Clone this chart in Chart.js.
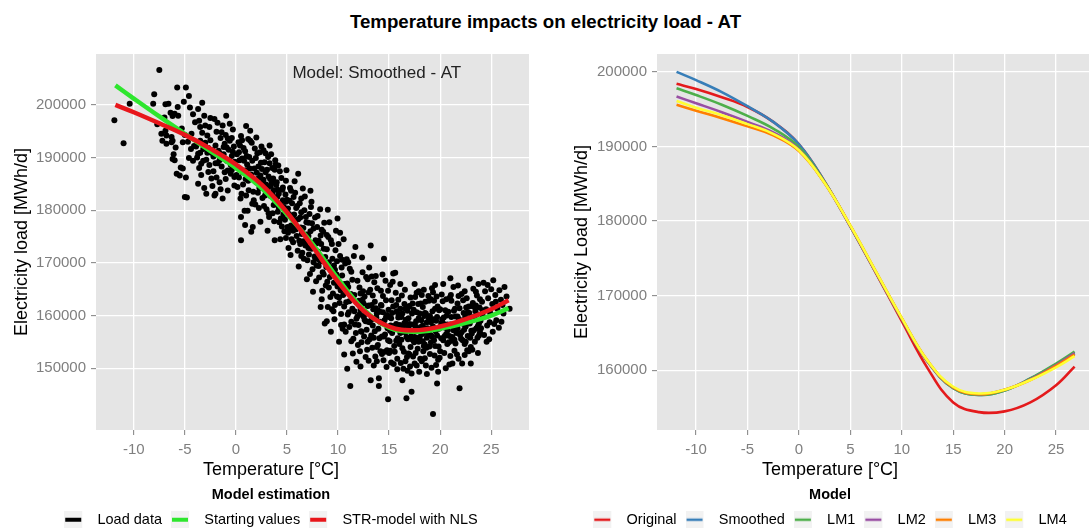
<!DOCTYPE html>
<html lang="en">
<head>
    <meta charset="UTF-8">
    <title>Temperature impacts on electricity load - AT</title>
    <script src="https://cdn.jsdelivr.net/npm/chart.js"></script>
    <style>
        body {
            margin: 0;
            width: 1091px;
            height: 528px;
            position: relative;
            overflow: hidden;
            background: #fff;
            font-family: "Liberation Sans", Arial, sans-serif;
        }
        .mainTitle {
            position: absolute;
            left: 0;
            top: 12px;
            width: 1091px;
            margin: 0;
            text-align: center;
            font-size: 18.7px;
            line-height: 20px;
            font-weight: bold;
            color: #000;
        }
        #fitChart { position: absolute; left: 9px; top: 40px; }
        #modelChart { position: absolute; left: 571px; top: 40px; }
    </style>
</head>
<body>
<h1 class="mainTitle">Temperature impacts on electricity load - AT</h1>
<canvas id="fitChart" width="524" height="488"></canvas>
<canvas id="modelChart" width="518" height="488"></canvas>

<script>
    // daily load [MWh/d] against daily mean temperature [°C]
    const loadData = [
        [-11.9,197100],[-11.0,192700],[-10.4,200200],[-8.0,202000],[-8.1,200200],[-7.5,206600],
        [-6.9,200100],[-6.6,200200],[-6.4,198500],[-6.2,197900],[-6.0,198300],[-5.75,203300],[-4.9,203300],
        [-4.6,201700],[-5.7,199600],[-5.65,197950],[-4.5,199500],[-7.3,194500],[-6.9,195100],[-6.8,194200],
        [-7.2,193200],[-6.3,193900],[-6.2,193200],[-6.8,192600],[-6.3,192900],[-5.2,192900],[-4.35,194500],
        [-6.1,190600],[-6.0,189500],[-6.2,189700],[-5.2,187900],[-5.4,188100],[-5.5,186600],[-5.8,186900],
        [-4.9,186200],[-5.0,182500],[-4.8,182400],[-4.2,189400],[-4.0,196700],[-5.3,195500],[-5.0,194300],
        [-4.7,193000],[-4.4,191600],[-5.9,191900],[-7.7,196300],[-7.0,197600],[-4.2,198200],[-5.1,200600],
        [-4.1,192200],[-4.6,189900],
        [-3.7,199200],[-3.3,200400],[-3.1,197950],[-0.95,197950],[-3.6,197000],[-3.5,195800],[-3.3,194700],
        [-3.5,193200],[-3.7,190700],[-3.4,188800],[-2.7,187250],[-2.4,186000],[-3.7,185000],[-2.9,183100],
        [-2.1,182800],[-2.0,183100],[-1.5,184000],[-1.3,182200],[-0.8,187550],[-0.15,186300],[-0.15,184700],
        [-0.8,183750],[-3.9,192100],[-3.8,190000],[-3.2,191600],[-3.0,192800],[-2.8,194200],[-2.6,195800],
        [-2.5,193300],[-2.3,191400],[-2.2,190200],[-2.0,192300],[-1.9,194900],[-1.8,196600],[-1.7,191300],
        [-1.6,189500],[-1.5,193700],[-1.4,188300],[-1.2,190600],[-1.1,192600],[-1.0,194300],[-0.9,189400],
        [-0.7,191500],[-0.6,193200],[-0.5,188600],[-0.4,190300],[-0.3,195300],[-0.2,192100],[-0.1,189200],
        [-2.9,189600],[-2.6,188600],[-2.2,187400],[-1.9,186200],[-1.6,185300],[-1.0,185900],[-0.5,186900],
        [-3.4,186700],[-3.1,184200],[-2.4,190900],[-1.3,196100],[-0.6,196400],[-3.6,188000],[-2.7,191800],
        [-1.8,188900],[-0.9,191900],[-0.3,191100],[-2.3,184600],[-1.4,194800],[-0.4,193700],[-3.0,196100],
        [-2.1,197300],[-1.1,187200],[-3.5,190900],[-2.8,190900],[-2.0,188900],[-1.2,192000],[-0.4,187700],
        [-3.2,189400],[-1.6,190800],[-2.5,197500],[-0.8,193600],
        [0.5,178700],[1.5,175900],[0.5,174300],[0.1,190600],[0.2,188100],[0.3,186200],[0.4,192300],
        [0.5,194100],[0.6,189800],[0.7,184900],[0.8,187300],[0.9,191200],[1.0,182800],[1.1,188700],
        [1.2,185600],[1.3,190100],[1.4,193200],[1.5,186800],[1.6,189400],[1.7,183500],[1.8,187900],
        [1.9,181100],[2.0,185300],[2.1,190800],[2.2,188300],[2.3,184200],[2.4,186600],[2.5,192100],
        [2.6,182300],[2.7,185800],[2.8,189100],[2.9,187200],[3.0,180200],[3.1,184000],[3.2,186400],
        [3.3,188900],[3.4,182700],[3.5,185100],[3.6,179400],[3.7,183800],[3.8,187700],[3.9,181600],
        [0.15,184400],[0.35,189500],[0.55,183100],[0.75,191800],[0.95,185900],[1.15,179900],[1.35,187900],
        [1.55,192800],[1.75,181900],[1.95,189900],[2.15,183300],[2.35,191000],[2.55,187800],[2.75,180800],
        [2.95,184900],[3.15,190100],[3.35,185900],[3.55,188000],[3.75,177900],[3.95,184800],[0.25,192900],
        [0.45,182200],[0.65,187200],[0.85,179900],[1.05,190300],[1.25,183800],[1.45,186100],[1.65,176800],
        [1.85,191700],[2.05,187100],[2.25,180400],[2.45,189000],[2.65,185100],[2.85,182800],[3.05,187700],
        [3.25,178700],[3.45,190600],[3.65,186000],[3.85,189500],[0.05,186700],[1.0,196000],[0.6,193300],
        [2.0,193800],[2.7,191400],[3.3,192300],[1.6,181200],[2.4,177800],[3.1,176100],[3.8,174300],
        [0.9,177200],[2.9,183700],[1.2,193500],[3.6,183000],[3.9,188700],[0.3,191000],[1.0,187600],
        [1.8,185700],[2.6,184400],[3.4,184600],[0.8,189400],[2.2,186000],[3.7,181000],[1.4,195100],
        [2.9,190800],[3.2,179400],
        [4.0,185300],[4.1,179700],[4.2,183100],[4.3,187400],[4.4,181200],[4.5,176900],[4.6,184300],
        [4.7,180600],[4.8,178200],[4.9,185600],[5.0,182000],[5.1,175700],[5.2,179300],[5.3,184200],
        [5.4,177100],[5.5,181300],[5.6,173900],[5.7,179200],[5.8,183300],[5.9,176400],[6.0,180800],
        [6.1,186900],[6.2,174200],[6.3,178600],[6.4,182200],[6.5,171900],[6.6,176600],[6.7,180000],
        [6.8,173300],[6.9,177700],[7.0,170500],[7.1,175100],[7.2,179300],[7.3,183700],[7.4,172700],
        [7.5,168800],[7.6,176500],[7.7,171200],[7.8,174300],[7.9,169500],[4.05,182500],[4.25,177700],
        [4.45,186100],[4.65,179200],[4.85,183000],[5.05,176800],[5.25,181800],[5.45,174500],[5.65,182500],
        [5.85,178100],[6.05,172300],[6.25,181300],[6.45,175500],[6.65,170800],[6.85,178700],[7.05,174000],
        [7.25,167900],[7.45,177500],[7.65,173800],[7.85,166500],[4.15,188500],[4.55,183900],[4.95,187600],
        [5.35,171500],[5.75,185500],[6.15,169300],[6.55,184100],[6.95,166900],[7.35,180600],[7.75,178600],
        [4.35,174500],[5.15,172800],[5.95,175100],[6.75,182600],[7.55,164500],[4.75,176000],[5.55,178400],
        [6.35,176700],[7.15,171600],[7.95,176800],[4.2,180500],[4.9,181600],[5.7,177000],[6.4,179600],
        [7.1,177600],[7.8,170800],[4.1,183900],[4.6,181900],[5.1,180300],[5.6,176100],[6.1,178300],
        [6.6,174100],[7.1,172800],[7.6,170100],[4.4,178400],[4.9,174700],[5.4,183700],[5.9,180400],
        [6.4,171300],[6.9,175400],[7.4,181600],[7.9,173700],[5.3,176500],[6.3,173600],[7.3,176000],
        [8.0,178900],[8.1,174200],[8.2,170500],[8.3,161600],[8.4,176300],[8.5,168200],[8.6,172700],
        [8.7,158500],[8.8,165700],[8.9,175300],[9.0,161600],[9.1,170100],[9.2,167300],[9.3,156900],
        [9.4,173600],[9.5,164200],[9.6,169500],[9.7,162000],[9.8,176100],[9.95,178400],[10.0,166300],
        [10.1,155000],[10.2,171300],[10.3,160300],[10.4,167600],[10.5,163900],[10.6,158300],[10.7,169900],
        [10.8,162500],[10.9,149900],[11.0,165400],[11.1,157800],[11.2,146600],[11.3,168300],[11.4,161300],
        [11.5,155600],[11.6,163900],[11.7,173000],[11.8,159400],[11.9,166600],[8.05,172100],[8.25,180200],
        [8.45,164700],[8.65,177600],[8.85,169200],[9.05,174900],[9.25,163500],[9.45,170800],[9.65,159300],
        [9.85,167800],[10.05,173600],[10.25,164800],[10.45,157500],[10.65,166000],[10.85,170700],
        [11.05,160600],[11.25,164100],[11.45,152800],[11.65,158300],[11.85,162500],[8.15,167200],
        [8.35,173600],[8.55,175900],[8.75,171100],[8.95,166400],[9.15,177700],[9.35,168700],[9.55,160800],
        [9.75,172400],[9.95,165500],[10.15,162400],[10.35,169100],[10.55,174500],[10.75,156900],
        [10.95,160200],[11.15,168900],[11.35,163600],[11.55,171300],[11.75,156700],[11.95,154400],
        [8.4,163100],[9.0,180100],[9.9,170300],[10.6,152600],[11.3,158800],[11.8,151200],[8.9,158900],
        [10.2,175700],[11.0,170100],[8.1,169400],[8.6,167800],[9.1,165300],[9.6,166200],[10.1,163400],
        [10.6,161700],[11.1,162700],[11.6,160800],[8.4,170300],[8.9,172600],[9.4,161200],[9.9,163600],
        [10.4,170600],[10.9,166100],[11.4,166800],[11.9,159800],[8.3,175200],[9.3,174300],[10.3,158200],
        [11.3,155100],[9.7,168700],
        [12.0,158200],[12.1,165300],[12.2,161100],[12.3,154900],[12.4,168200],[12.5,159800],[12.6,163600],
        [12.7,152100],[12.8,157300],[12.9,166900],[13.0,161900],[13.1,155500],[13.2,173300],[13.2,147700],
        [13.3,159300],[13.4,163800],[13.5,150500],[13.6,157000],[13.7,167500],[13.8,154000],[13.9,161000],
        [14.0,148100],[14.0,146600],[14.1,158800],[14.2,164700],[14.3,152700],[14.4,160600],[14.5,170800],
        [14.6,156400],[14.7,162900],[14.8,153400],[14.9,144100],[15.0,159700],[15.1,165800],[15.2,151100],
        [15.3,156700],[15.4,161700],[15.5,154200],[15.6,168100],[15.7,158400],[15.8,149800],[15.9,163000],
        [12.05,162800],[12.25,157000],[12.45,164600],[12.65,160300],[12.85,153500],[13.05,169100],
        [13.25,156200],[13.45,161200],[13.65,152200],[13.85,165200],[14.05,155700],[14.25,161900],
        [14.45,151500],[14.65,166600],[14.85,157600],[15.05,155100],[15.25,162900],[15.45,150800],
        [15.65,164300],[15.85,155700],[12.15,153200],[12.35,171000],[12.55,156000],[12.75,167300],
        [12.95,158800],[13.15,164900],[13.35,153900],[13.55,166300],[13.75,159600],[13.95,157500],
        [14.15,153200],[14.35,167800],[14.55,159100],[14.75,150200],[14.95,161100],[15.15,158100],
        [15.35,166400],[15.55,153100],[15.75,160800],[15.95,157800],[12.2,150300],[12.9,155000],
        [13.6,162600],[14.3,156000],[15.0,152900],[15.7,162000],[12.6,159200],[13.4,158100],[14.2,162000],
        [14.9,164700],[15.4,157600],[12.4,163000],[13.8,160400],[14.6,153100],[15.2,159500],[13.0,151400],
        [14.8,160100],[15.9,160300],[12.1,160200],[12.3,156900],[12.5,162300],[12.7,158900],[12.9,161800],
        [13.1,158700],[13.3,162000],[13.5,155800],[13.7,161400],[13.9,154400],[14.1,160700],[14.3,158600],
        [14.5,156000],[14.7,159700],[14.9,155300],[15.1,157100],[15.3,160500],[15.5,158000],[15.7,155200],
        [15.9,159600],[12.2,164200],[13.0,164400],[13.8,151300],[14.4,163700],[15.1,153300],[15.8,151800],
        [13.3,167400],[15.4,168000],
        [16.0,154600],[16.1,166000],[16.2,159700],[16.3,147700],[16.4,149900],[16.5,162200],[16.6,156800],
        [16.7,144300],[16.8,160900],[16.9,152800],[17.0,158400],[17.1,163400],[17.2,145500],[17.3,155400],
        [17.4,161100],[17.5,150900],[17.6,157900],[17.7,164300],[17.8,153700],[17.9,159500],[18.0,155900],
        [18.1,162300],[18.2,151300],[18.3,158100],[18.4,164900],[18.5,154500],[18.6,160400],[18.7,148900],
        [18.8,156600],[18.9,162800],[19.0,152700],[19.1,158700],[19.2,165200],[19.3,141300],[19.4,155300],
        [19.5,161300],[19.6,150600],[19.7,147100],[19.8,149300],[19.9,157500],[16.05,158200],[16.25,163800],
        [16.45,153100],[16.65,159200],[16.85,155500],[17.05,150300],[17.25,160400],[17.45,154900],
        [17.65,158900],[17.85,162200],[18.05,151800],[18.25,156500],[18.45,159900],[18.65,153900],
        [18.85,163700],[19.05,156300],[19.25,160800],[19.45,152400],[19.65,163600],[19.85,154100],
        [16.15,151000],[16.35,156900],[16.55,164900],[16.75,152100],[16.95,161700],[17.15,156000],
        [17.35,152200],[17.55,163500],[17.75,155600],[17.95,149300],[18.15,159100],[18.35,153200],
        [18.55,162600],[18.75,157600],[18.95,154100],[19.15,150100],[19.35,159300],[19.55,157000],
        [19.75,161700],[19.95,152000],[16.2,155400],[16.9,157800],[17.6,152900],[18.3,161600],[19.0,159900],
        [19.7,156200],[16.6,161300],[17.3,158300],[18.0,160400],[18.7,155800],[19.4,162800],[16.4,158000],
        [17.1,154000],[17.8,157400],[18.5,151900],[19.2,156000],[16.8,149500],[18.2,163900],[19.6,159000],
        [17.0,161800],[18.9,159400],[16.3,160400],[17.7,150500],[19.1,163100],[16.1,156700],[16.3,153800],
        [16.5,158600],[16.7,155900],[16.9,159500],[17.1,157000],[17.3,162300],[17.5,155900],[17.7,160600],
        [17.9,155000],[18.1,157800],[18.3,155100],[18.5,160500],[18.7,158700],[18.9,156300],[19.1,154900],
        [19.3,157900],[19.5,154200],[19.7,159700],[19.9,161000],[16.6,151300],[17.2,149000],[17.9,164600],
        [18.6,150500],[19.3,164400],[16.1,161300],[17.0,152600],[18.4,154200],[19.8,151600],[17.5,166000],
        [19.5,165800],
        [20.0,161200],[20.1,155700],[20.2,159300],[20.3,166000],[20.4,152900],[20.5,157700],[20.6,163100],
        [20.7,154600],[20.8,160700],[20.9,150700],[21.0,158300],[21.1,162800],[21.2,155900],[21.3,165400],
        [21.4,153300],[21.5,159800],[21.6,156700],[21.7,162300],[21.8,151800],[21.9,146200],[22.0,158800],
        [22.1,164100],[22.2,155300],[22.3,160500],[22.4,152500],[22.5,157900],[22.6,163300],[22.7,156100],
        [22.8,161700],[22.9,167000],[23.0,154000],[23.1,159100],[23.2,162400],[23.3,157200],[23.4,155000],
        [23.5,164500],[23.6,160200],[23.7,152900],[23.8,158500],[23.9,163100],[20.05,157900],[20.25,162700],
        [20.45,156100],[20.65,160000],[20.85,154900],[21.05,163900],[21.25,158200],[21.45,161300],
        [21.65,152600],[21.85,159300],[22.05,155600],[22.25,162900],[22.45,159700],[22.65,153400],
        [22.85,160500],[23.05,157100],[23.25,165100],[23.45,160800],[23.65,155800],[23.85,161500],
        [20.15,164000],[20.35,159600],[20.55,150000],[20.75,157200],[20.95,163400],[21.15,155200],
        [21.35,160900],[21.55,157300],[21.75,165700],[21.95,156300],[22.15,150900],[22.35,157300],
        [22.55,161500],[22.75,158800],[22.95,155800],[23.15,153500],[23.35,161600],[23.55,157600],
        [23.75,166000],[23.95,159000],[20.3,158500],[21.0,152300],[21.7,159800],[22.4,164600],[23.1,161800],
        [23.8,156200],[20.1,158600],[20.3,155300],[20.5,161000],[20.7,158300],[20.9,156100],[21.1,159700],
        [21.3,157200],[21.5,154700],[21.7,157600],[21.9,161400],[22.1,156800],[22.3,158400],[22.5,155000],
        [22.7,160600],[22.9,158500],[23.1,156600],[23.3,159700],[23.5,161900],[23.7,158000],[23.9,156800],
        [20.0,153200],[20.6,156500],[21.2,150900],[21.8,163700],[22.4,154600],[23.0,150900],[23.6,163800],
        [21.4,155400],[22.8,153200],[21.0,167100],
        [24.0,157600],[24.1,162600],[24.2,159800],[24.3,156300],[24.4,164600],[24.5,161200],[24.6,158100],
        [24.7,163300],[24.8,155500],[24.9,160500],[25.0,165000],[25.1,162200],[25.2,166700],[25.3,158400],
        [25.4,163900],[25.5,159100],[25.6,161300],[25.8,164800],[26.0,158800],[26.1,162000],[26.3,165400],
        [26.5,163600],[26.8,161300],[24.25,166200],[24.55,155000],[24.85,158700],[25.15,156900],
        [25.45,162600],[25.75,157700],[26.2,160400],[24.15,161000],[24.65,165800],[25.95,163000]
    ];

    // fitted curves, left panel
    const fitTemps = [-11.8, -10, -7.5, -5, -2.5, 0, 2.5, 5, 7.5, 10, 12.5, 15, 17.5, 20, 22.5, 25, 26.7];
    const startValues = [203700, 201200, 197800, 194500, 191200, 188000, 184200, 179200, 173600, 167000,
        161200, 157700, 156900, 157500, 158600, 160000, 161400];
    const strNls = [200000, 198600, 196500, 194300, 191700, 188700, 184900, 179600, 173100, 166400,
        160900, 157900, 157200, 157900, 159300, 161200, 162900];

    // model comparison, right panel
    const modelTemps = [-11.9, -10, -7.5, -5, -2.5, 0, 2.5, 5, 7.5, 10, 12.5, 15, 17.5, 20, 22.5, 25, 26.8];
    const original = [198400, 197700, 196600, 195300, 193300, 190300, 185300, 179300, 173000, 166600,
        160300, 155700, 154400, 154500, 155700, 158000, 160500];
    const smoothed = [200000, 198900, 197300, 195400, 193300, 190300, 185300, 179300, 173100, 166900,
        161200, 157600, 156700, 157300, 158900, 160800, 162300];
    const lm1 = [197800, 196900, 195600, 194100, 192400, 189900, 185200, 179300, 173100, 166900,
        161200, 157600, 156700, 157300, 158900, 160900, 162500];
    const lm2 = [196700, 195800, 194600, 193300, 191900, 189600, 185100, 179300, 173100, 166900,
        161200, 157700, 156800, 157400, 158800, 160700, 162300];
    const lm3 = [195600, 194800, 193800, 192700, 191500, 189400, 185100, 179400, 173200, 167000,
        161300, 157700, 156800, 157400, 158700, 160600, 162100];
    const lm4 = [196100, 195200, 194200, 193000, 191700, 189500, 185100, 179400, 173200, 167000,
        161300, 157800, 156900, 157400, 158700, 160400, 161900];

    const tempTicks = [-10, -5, 0, 5, 10, 15, 20, 25];
    const fitLoadTicks = [150000, 160000, 170000, 180000, 190000, 200000];
    const modelLoadTicks = [160000, 170000, 180000, 190000, 200000];

    const FONT = '"Liberation Sans", Arial, sans-serif';

    const pairs = (xs, ys) => xs.map((x, i) => ({ x: x, y: ys[i] }));

    // ggplot-like legend key: grey square with a line across
    function legendKey(color, lineWidth) {
        const c = document.createElement('canvas');
        c.width = 26;
        c.height = 18;
        const g = c.getContext('2d');
        g.fillStyle = '#F2F2F2';
        g.fillRect(0, 0, 18, 18);
        g.strokeStyle = color;
        g.lineWidth = lineWidth;
        g.beginPath();
        g.moveTo(1, 9);
        g.lineTo(17, 9);
        g.stroke();
        return c;
    }

    const panelBackground = {
        id: 'panelBackground',
        beforeDraw(chart) {
            const { ctx, chartArea: a } = chart;
            ctx.save();
            ctx.fillStyle = '#E5E5E5';
            ctx.fillRect(a.left, a.top, a.width, a.height);
            ctx.restore();
        }
    };

    const modelNote = {
        id: 'modelNote',
        afterDatasetsDraw(chart) {
            const { ctx, scales } = chart;
            ctx.save();
            ctx.font = '17px ' + FONT;
            ctx.fillStyle = '#222';
            ctx.textAlign = 'center';
            ctx.textBaseline = 'middle';
            ctx.fillText('Model: Smoothed - AT', scales.x.getPixelForValue(13.8), scales.y.getPixelForValue(205900));
            ctx.restore();
        }
    };

    function axes(xMin, xMax, yMin, yMax, yTicks, yWidth, yTitle, yTitlePad) {
        const grid = { color: '#FFFFFF', lineWidth: 1.3, tickLength: 5, tickColor: '#7F7F7F', tickWidth: 1 };
        return {
            x: {
                type: 'linear',
                min: xMin,
                max: xMax,
                border: { display: false },
                grid: grid,
                afterBuildTicks: s => { s.ticks = tempTicks.map(v => ({ value: v })); },
                afterFit: s => { s.height = 26; },
                ticks: { color: '#7F7F7F', padding: 6, font: { family: FONT, size: 15 }, callback: v => String(v) }
            },
            y: {
                type: 'linear',
                min: yMin,
                max: yMax,
                border: { display: false },
                grid: grid,
                afterBuildTicks: s => { s.ticks = yTicks.map(v => ({ value: v })); },
                afterFit: s => { s.width = yWidth; },
                ticks: { color: '#7F7F7F', padding: 5, font: { family: FONT, size: 15 }, callback: v => String(v) },
                title: {
                    display: true,
                    text: yTitle,
                    color: '#000',
                    padding: { top: yTitlePad, bottom: 0 },
                    font: { family: FONT, size: 18, lineHeight: 1.2 }
                }
            }
        };
    }

    function bottomPlugins(legendTitle, items) {
        return {
            tooltip: { enabled: false },
            title: {
                display: true,
                position: 'bottom',
                weight: 500,
                text: 'Temperature [°C]',
                color: '#000',
                padding: { top: 3.2, bottom: 7.2 },
                font: { family: FONT, size: 18, weight: 'normal', lineHeight: 1.2 }
            },
            legend: {
                display: true,
                position: 'bottom',
                weight: 1000,
                maxHeight: 40,
                title: {
                    display: true,
                    text: legendTitle,
                    color: '#000',
                    padding: { top: 0, bottom: 1 },
                    font: { family: FONT, size: 14.5, weight: 'bold', lineHeight: 1 }
                },
                labels: {
                    usePointStyle: true,
                    pointStyleWidth: 26,
                    padding: 9,
                    color: '#000',
                    font: { family: FONT, size: 14.5 },
                    generateLabels: () => items.map((it, i) => ({
                        text: it.text,
                        pointStyle: legendKey(it.color, it.width),
                        fontColor: '#000',
                        datasetIndex: i,
                        hidden: false
                    }))
                }
            }
        };
    }

    function curve(label, xs, ys, color, width, order) {
        return {
            label: label,
            data: pairs(xs, ys),
            showLine: true,
            borderColor: color,
            borderWidth: width,
            pointRadius: 0,
            tension: 0.4,
            fill: false,
            order: order
        };
    }

    new Chart(document.getElementById('fitChart'), {
        type: 'scatter',
        data: {
            datasets: [
                {
                    label: 'Load data',
                    data: loadData,
                    pointRadius: 3,
                    pointBorderWidth: 0,
                    backgroundColor: '#000',
                    order: 3
                },
                curve('Starting values', fitTemps, startValues, '#2EE62E', 4.5, 2),
                curve('STR-model with NLS', fitTemps, strNls, '#E8161B', 4.5, 1)
            ]
        },
        options: {
            responsive: false,
            animation: false,
            layout: { padding: { top: 13, right: 0, bottom: 0, left: 0 } },
            scales: axes(-13.7, 28.7, 138260, 209660, fitLoadTicks, 87, 'Electricity load [MWh/d]', 2),
            plugins: bottomPlugins('Model estimation', [
                { text: 'Load data', color: '#000', width: 4 },
                { text: 'Starting values', color: '#2EE62E', width: 4 },
                { text: 'STR-model with NLS', color: '#E8161B', width: 4 }
            ])
        },
        plugins: [panelBackground, modelNote]
    });

    const modelColors = {
        original: '#E41A1C', smoothed: '#377EB8', lm1: '#4DAF4A',
        lm2: '#984EA3', lm3: '#FF7F00', lm4: '#FFFF33'
    };

    new Chart(document.getElementById('modelChart'), {
        type: 'scatter',
        data: {
            datasets: [
                curve('Original', modelTemps, original, modelColors.original, 2.6, 6),
                curve('Smoothed', modelTemps, smoothed, modelColors.smoothed, 2.6, 5),
                curve('LM1', modelTemps, lm1, modelColors.lm1, 2.6, 4),
                curve('LM2', modelTemps, lm2, modelColors.lm2, 2.6, 3),
                curve('LM3', modelTemps, lm3, modelColors.lm3, 2.6, 2),
                curve('LM4', modelTemps, lm4, modelColors.lm4, 2.6, 1)
            ]
        },
        options: {
            responsive: false,
            animation: false,
            layout: { padding: { top: 13, right: 0, bottom: 0, left: 0 } },
            scales: axes(-13.8, 28.2, 152000, 202400, modelLoadTicks, 86, 'Electricity Load [MWh/d]', 0),
            plugins: bottomPlugins('Model', [
                { text: 'Original', color: modelColors.original, width: 2.5 },
                { text: 'Smoothed', color: modelColors.smoothed, width: 2.5 },
                { text: 'LM1', color: modelColors.lm1, width: 2.5 },
                { text: 'LM2', color: modelColors.lm2, width: 2.5 },
                { text: 'LM3', color: modelColors.lm3, width: 2.5 },
                { text: 'LM4', color: modelColors.lm4, width: 2.5 }
            ])
        },
        plugins: [panelBackground]
    });
</script>
</body>
</html>
